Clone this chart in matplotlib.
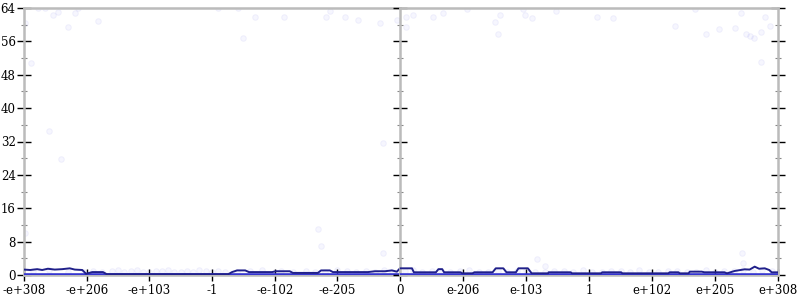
import matplotlib
matplotlib.use("Agg")
import matplotlib.pyplot as plt
from matplotlib.ticker import FixedLocator, MultipleLocator

# x positions are in "decade-bucket" units: each labelled tick is one unit
left_ticks = [-6, -5, -4, -3, -2, -1, 0]
left_labels = ['-e+308', '-e+206', '-e+103', '-1', '-e-102', '-e-205', '0']
right_ticks = [1, 2, 3, 4, 5, 6]
right_labels = ['e-206', 'e-103', '1', 'e+102', 'e+205', 'e+308']
y_major = [0, 8, 16, 24, 32, 40, 48, 56, 64]

# faint scatter: sparse high points
high_u = [-5.78, -5.66, -5.54, -5.46, -5.30, -5.19, -5.14, -4.82, -5.99, -5.89,
          -2.90, -2.58, -2.31, -2.51, -1.85, -1.18, -1.12, -0.88, -0.67, -0.32, -0.05,
          0.10, 0.21, 0.10, 0.53, 0.69, 1.07, 1.50, 1.58, 1.56, 1.96, 1.99, 2.09,
          2.47, 3.13, 3.38, 4.36, 4.68, 4.85, 5.06, 5.31, 5.41, 5.49, 5.55, 5.62,
          5.73, 5.79, 5.87, 5.73,
          -5.60, -5.41, -1.31, -5.98, -0.27, 5.44, -1.26, -0.27, 5.43, 2.17, 2.30]
high_v = [64.0, 64.0, 62.3, 63.0, 59.4, 62.8, 64.0, 60.9, 60.4, 50.8,
          64.0, 64.0, 61.8, 56.8, 61.8, 61.8, 63.3, 61.8, 61.1, 60.4, 61.1,
          61.8, 62.3, 59.4, 61.8, 62.8, 63.8, 60.6, 62.3, 57.8, 63.8, 62.3, 61.6,
          63.3, 61.8, 61.6, 59.7, 63.8, 57.8, 59.0, 59.2, 62.8, 57.8, 57.3, 56.8,
          58.2, 61.8, 59.7, 51.1,
          34.5, 27.8, 11.0, 10.1, 31.6, 2.9, 7.0, 5.3, 5.3, 3.8, 2.2]

# faint scatter: dense low points
low_u = [-5.85, -5.6, -5.3, -5.05, -4.9, -4.75, -4.6, -4.5, -4.4, -4.3, -4.2, -4.1,
         -4.0, -3.9, -3.8, -3.7, -3.6, -3.5, -3.4, -3.3, -3.2, -3.1, -3.0, -2.9,
         -2.8, -2.6, -2.4, -2.2, -2.0, -1.9, -1.7, -1.5, -1.35, -1.2, -1.0, -0.85,
         -0.7, -0.55, -0.4, -0.25, -0.12, 0.08, 0.2, 0.35, 0.5, 0.65, 0.8, 0.95,
         1.1, 1.25, 1.4, 1.55, 1.7, 1.85, 2.0, 2.15, 2.3, 2.45, 2.6, 2.75, 2.9,
         3.05, 3.2, 3.35, 3.5, 3.65, 3.8, 3.95, 4.1, 4.25, 4.4, 4.55, 4.7, 4.85,
         5.0, 5.15, 5.3, 5.45, 5.6, 5.75, 5.9]
low_v = [0.9, 1.1, 0.7, 0.8, 1.0, 0.6, 0.9, 1.1, 0.7, 0.9, 1.2, 0.8,
         0.6, 1.0, 0.9, 1.1, 0.7, 0.8, 1.0, 0.6, 1.1, 0.9, 0.7, 1.0,
         0.8, 0.6, 0.9, 1.1, 0.7, 0.9, 0.6, 1.0, 0.8, 0.7, 1.1, 0.9,
         0.6, 1.0, 0.8, 1.2, 0.7, 0.9, 1.1, 0.7, 1.0, 0.8, 0.6, 0.9,
         1.1, 0.7, 0.8, 1.0, 0.6, 0.9, 1.1, 0.8, 0.7, 1.0, 0.9, 0.6, 1.1,
         0.8, 0.7, 1.0, 0.9, 0.6, 1.1, 0.8, 0.7, 1.0, 0.9, 0.6, 0.8, 1.1,
         0.7, 0.9, 1.0, 1.2, 0.8, 1.1, 0.9]

# dark running line
line_u = [-6.00, -5.90, -5.79, -5.71, -5.62, -5.51, -5.39, -5.27, -5.19, -5.07,
          -5.01, -4.91, -4.74, -4.68, -2.74, -2.68, -2.60, -2.47, -2.41, -2.04,
          -1.98, -1.76, -1.71, -1.31, -1.26, -1.12, -1.07, -0.51, -0.40, -0.24,
          -0.13, -0.05, 0.00, 0.19, 0.22, 0.57, 0.61, 0.67, 0.70, 0.96, 0.99, 1.15,
          1.18, 1.47, 1.52, 1.64, 1.69, 1.84, 1.88, 2.03, 2.09, 2.35, 2.36, 2.71,
          2.73, 3.19, 3.21, 3.51, 3.53, 4.26, 4.28, 4.42, 4.44, 4.58, 4.60, 4.79,
          4.83, 5.15, 5.19, 5.31, 5.47, 5.55, 5.63, 5.70, 5.79, 5.86, 5.90, 6.00]
line_v = [1.3, 1.2, 1.4, 1.2, 1.5, 1.3, 1.4, 1.6, 1.3, 1.2,
          0.3, 0.7, 0.7, 0.2, 0.2, 0.7, 1.1, 1.1, 0.7, 0.7,
          0.9, 0.9, 0.5, 0.5, 1.1, 1.1, 0.7, 0.7, 0.9, 0.9,
          1.1, 0.8, 1.6, 1.6, 0.65, 0.65, 1.4, 1.4, 0.65, 0.65, 0.4, 0.4,
          0.65, 0.65, 1.6, 1.6, 0.65, 0.65, 1.6, 1.6, 0.4, 0.4, 0.65, 0.65,
          0.4, 0.4, 0.65, 0.65, 0.4, 0.4, 0.65, 0.65, 0.4, 0.4, 0.8, 0.8,
          0.65, 0.65, 0.4, 0.96, 1.36, 1.3, 2.0, 1.5, 1.6, 1.2, 0.64, 0.64]

plt.rcParams['font.family'] = ['DejaVu Serif']
fig = plt.figure(figsize=(8, 3), dpi=100)
L, R, B, T = 24 / 800, 778 / 800, 1 - 275 / 300, 1 - 8 / 300
mid = 400 / 800
axl = fig.add_axes([L, B, mid - L, T - B])
axr = fig.add_axes([mid, B, R - mid, T - B])

gray = '#bbbbbb'
scat_col = (0.35, 0.35, 0.95, 0.05)
for ax, lo, hi in ((axl, -6, 0), (axr, 0, 6)):
    hu = [u for u in high_u if lo <= u <= hi]
    hv = [v for u, v in zip(high_u, high_v) if lo <= u <= hi]
    lu = [u for u in low_u if lo <= u <= hi]
    lv = [v for u, v in zip(low_u, low_v) if lo <= u <= hi]
    ax.scatter(hu + lu, hv + lv, s=16, color=scat_col, edgecolors=(0.4, 0.4, 0.9, 0.09),
               linewidths=0.6, zorder=2)
    mu = [u for u in line_u if lo <= u <= hi]
    mv = [v for u, v in zip(line_u, line_v) if lo <= u <= hi]
    ax.axhline(0, color='#3535d0', lw=2.6, zorder=3)
    ax.plot(mu, mv, color='#20208a', lw=1.4, zorder=4)
    ax.set_xlim(lo, hi)
    ax.set_ylim(0, 64)
    for s in ax.spines.values():
        s.set_color(gray)
        s.set_linewidth(1.8)
    ax.yaxis.set_major_locator(FixedLocator(y_major))
    ax.yaxis.set_minor_locator(MultipleLocator(4))
    ax.tick_params(axis='y', which='major', direction='inout', length=10, width=1.0,
                   color='black', labelsize=8.5)
    ax.tick_params(axis='y', which='minor', direction='inout', length=5, width=0.8,
                   color='#888888')
    ax.tick_params(axis='x', which='major', direction='inout', length=9, width=1.0,
                   color='black', labelsize=8.5, pad=2)

axl.spines['right'].set_visible(False)
axl.set_xticks(left_ticks)
axl.set_xticklabels(left_labels)
axl.tick_params(axis='y', which='both', left=True, right=False, labelleft=True, pad=1)

axr.set_xticks(right_ticks)
axr.set_xticklabels(right_labels)
axr.tick_params(axis='y', which='both', left=True, right=True, labelleft=False)

fig.savefig('out.png', dpi=100)
